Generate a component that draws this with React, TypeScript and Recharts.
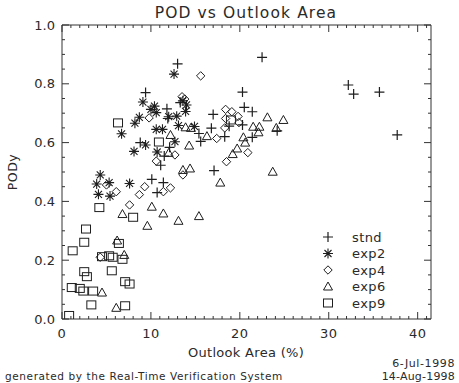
import React from 'react';
import { ScatterChart, Scatter, XAxis, YAxis, Legend } from 'recharts';

type P = { x: number; y: number };
const pts = (a: number[][]): P[] => a.map(([x, y]) => ({ x, y }));

const stnd = pts([
  [13.0, 0.868], [22.5, 0.89], [9.4, 0.77], [20.3, 0.772], [32.2, 0.796], [32.8, 0.765],
  [35.7, 0.772], [37.7, 0.626], [13.3, 0.736], [11.8, 0.715], [17.0, 0.696], [20.5, 0.72],
  [21.4, 0.705], [20.3, 0.66], [18.8, 0.656], [16.8, 0.649], [24.2, 0.64], [18.3, 0.62],
  [15.6, 0.604], [15.4, 0.631], [21.4, 0.618], [17.1, 0.505], [8.8, 0.6], [12.1, 0.584],
  [11.5, 0.554], [11.1, 0.523], [10.1, 0.475], [11.4, 0.464], [10.7, 0.43], [11.9, 0.682],
]);
const exp2 = pts([
  [12.6, 0.833], [9.1, 0.738], [10.4, 0.724], [10.0, 0.713], [10.6, 0.702], [13.6, 0.742],
  [14.0, 0.728], [13.9, 0.706], [8.7, 0.686], [12.0, 0.688], [12.9, 0.69], [8.2, 0.666],
  [6.7, 0.63], [13.1, 0.658], [10.6, 0.645], [11.3, 0.645], [14.9, 0.655], [9.4, 0.592],
  [12.7, 0.603], [8.1, 0.57], [10.7, 0.568], [4.3, 0.49], [3.9, 0.459], [5.3, 0.464],
  [7.6, 0.461], [4.1, 0.424], [5.4, 0.418],
]);
const exp4 = pts([
  [15.6, 0.827], [13.5, 0.756], [13.8, 0.748], [9.8, 0.684], [18.4, 0.713], [19.1, 0.705],
  [18.4, 0.682], [19.8, 0.689], [19.9, 0.668], [18.3, 0.65], [17.4, 0.614], [20.9, 0.566],
  [18.5, 0.535], [12.7, 0.558], [10.6, 0.537], [13.6, 0.49], [5.0, 0.456], [6.1, 0.433],
  [9.3, 0.45], [8.7, 0.423], [11.4, 0.433], [12.2, 0.446], [7.6, 0.388], [4.3, 0.21],
]);
const exp6 = pts([
  [13.9, 0.652], [14.5, 0.65], [12.2, 0.626], [16.3, 0.622], [20.4, 0.618], [20.6, 0.6],
  [14.3, 0.59], [19.7, 0.58], [19.2, 0.561], [23.1, 0.686], [24.9, 0.677], [21.5, 0.654],
  [22.2, 0.654], [22.1, 0.635], [24.1, 0.65], [23.7, 0.501], [13.6, 0.507], [14.4, 0.512],
  [17.8, 0.464], [12.0, 0.565], [10.1, 0.382], [11.4, 0.359], [13.1, 0.334], [15.4, 0.35],
  [9.6, 0.317], [6.8, 0.357], [6.2, 0.267], [7.0, 0.218], [4.5, 0.09], [6.1, 0.038],
]);
const exp9 = pts([
  [19.0, 0.677], [6.3, 0.667], [10.9, 0.602], [4.2, 0.379], [8.0, 0.346], [2.7, 0.306],
  [2.5, 0.261], [6.4, 0.257], [1.2, 0.232], [4.5, 0.212], [5.3, 0.215], [5.7, 0.21],
  [6.8, 0.203], [2.5, 0.161], [2.8, 0.144], [5.6, 0.164], [7.1, 0.127], [7.6, 0.119],
  [1.1, 0.107], [2.0, 0.104], [2.4, 0.095], [3.5, 0.095], [3.3, 0.048], [7.1, 0.045],
  [0.8, 0.012],
]);

const xTicks = Array.from({ length: 42 }, (_, i) => i);
const yTicks = Array.from({ length: 21 }, (_, i) => i / 20);
const legendNames = ['stnd', 'exp2', 'exp4', 'exp6', 'exp9'];

const INK = '#1e1e1e';
const FRAME = '#333';
const TXT = '#2a2a2a';
const FONT = '"DejaVu Sans", sans-serif';

const Plus = ({ cx, cy }: any) => (
  <path d={`M${cx - 5},${cy}H${cx + 5}M${cx},${cy - 5}V${cy + 5}`} stroke={INK} strokeWidth={1.2} fill="none" />
);
const Star = ({ cx, cy }: any) => {
  const d = 3.5;
  return (
    <path
      d={`M${cx - 5},${cy}H${cx + 5}M${cx},${cy - 5}V${cy + 5}M${cx - d},${cy - d}L${cx + d},${cy + d}M${cx - d},${cy + d}L${cx + d},${cy - d}`}
      stroke={INK} strokeWidth={1.1} fill="none"
    />
  );
};
const Diamond = ({ cx, cy }: any) => (
  <path d={`M${cx},${cy - 4.2}L${cx + 4.2},${cy}L${cx},${cy + 4.2}L${cx - 4.2},${cy}Z`} stroke={INK} strokeWidth={1} fill="none" />
);
const Tri = ({ cx, cy }: any) => (
  <path d={`M${cx},${cy - 4.5}L${cx + 4.5},${cy + 3.5}L${cx - 4.5},${cy + 3.5}Z`} stroke={INK} strokeWidth={1} fill="none" />
);
const Square = ({ cx, cy }: any) => (
  <rect x={cx - 4.5} y={cy - 4} width={9} height={8} stroke={INK} strokeWidth={1} fill="none" />
);
const SHAPES = [Plus, Star, Diamond, Tri, Square];

const XTickBottom = (p: any) => {
  const { x, y, payload } = p;
  const v = payload.value;
  const major = v % 10 === 0;
  return (
    <g>
      <line x1={x} x2={x} y1={y} y2={y - (major ? 7 : 3)} stroke={FRAME} />
      {major && (
        <text x={x} y={y + 19} textAnchor="middle" fontSize={13} fontFamily={FONT} fill={TXT} letterSpacing={0.5}>
          {v}
        </text>
      )}
    </g>
  );
};
const XTickTop = (p: any) => {
  const { x, y, payload } = p;
  const major = payload.value % 10 === 0;
  return <line x1={x} x2={x} y1={y} y2={y + (major ? 7 : 3)} stroke={FRAME} />;
};
const YTickLeft = (p: any) => {
  const { x, y, payload } = p;
  const i = Math.round(payload.value * 20);
  const major = i % 4 === 0;
  return (
    <g>
      <line x1={x} x2={x + (major ? 7 : 3)} y1={y} y2={y} stroke={FRAME} />
      {major && (
        <text x={x - 7} y={y + 4.5} textAnchor="end" fontSize={13} fontFamily={FONT} fill={TXT}>
          {payload.value.toFixed(1)}
        </text>
      )}
    </g>
  );
};
const YTickRight = (p: any) => {
  const { x, y, payload } = p;
  const major = Math.round(payload.value * 20) % 4 === 0;
  return <line x1={x} x2={x - (major ? 7 : 3)} y1={y} y2={y} stroke={FRAME} />;
};

const LegendBox = () => (
  <svg width={90} height={90}>
    {legendNames.map((n, i) => {
      const S = SHAPES[i];
      const cy = 9 + i * 16.5;
      return (
        <g key={n}>
          <S cx={10} cy={cy} />
          <text x={34} y={cy + 4.5} fontSize={13} fontFamily={FONT} fill={TXT} letterSpacing={0.4}>
            {n}
          </text>
        </g>
      );
    })}
  </svg>
);

const series = [stnd, exp2, exp4, exp6, exp9];

export default function App() {
  return (
    <div style={{ position: 'absolute', left: 0, top: 0, width: 459, height: 383, background: '#fff' }}>
      <ScatterChart
        width={459}
        height={383}
        margin={{ top: 24, right: 27, bottom: 34, left: 22 }}
        style={{ fontFamily: FONT }}
      >
        <XAxis
          xAxisId="b" type="number" dataKey="x" domain={[0, 41.5]} ticks={xTicks} interval={0}
          height={30} tickSize={0} tickMargin={0} tick={<XTickBottom />} axisLine={{ stroke: FRAME }}
          allowDataOverflow
        />
        <XAxis
          xAxisId="t" orientation="top" type="number" dataKey="x" domain={[0, 41.5]} ticks={xTicks}
          interval={0} height={1} tickSize={0} tickMargin={0} tick={<XTickTop />} axisLine={{ stroke: FRAME }}
          allowDataOverflow
        />
        <YAxis
          yAxisId="l" type="number" dataKey="y" domain={[0, 1]} ticks={yTicks} interval={0}
          width={40} tickSize={0} tickMargin={0} tick={<YTickLeft />} axisLine={{ stroke: FRAME }}
          allowDataOverflow
        />
        <YAxis
          yAxisId="r" orientation="right" type="number" dataKey="y" domain={[0, 1]} ticks={yTicks}
          interval={0} width={1} tickSize={0} tickMargin={0} tick={<YTickRight />} axisLine={{ stroke: FRAME }}
          allowDataOverflow
        />
        {series.map((d, i) => {
          const S = SHAPES[i];
          return (
            <Scatter
              key={legendNames[i]}
              name={legendNames[i]}
              data={d}
              xAxisId="b"
              yAxisId="l"
              isAnimationActive={false}
              shape={(p: any) => <S cx={p.cx} cy={p.cy} />}
            />
          );
        })}
        {series.map((d, i) => (
          <Scatter
            key={'h' + i}
            data={d}
            xAxisId="t"
            yAxisId="r"
            isAnimationActive={false}
            legendType="none"
            shape={() => <g />}
          />
        ))}
        <Legend
          layout="vertical"
          align="center"
          verticalAlign="middle"
          content={() => <LegendBox />}
          wrapperStyle={{ position: 'absolute', left: 318, top: 228, width: 90, height: 90 }}
        />
      </ScatterChart>
      <svg width={459} height={383} style={{ position: 'absolute', left: 0, top: 0, pointerEvents: 'none' }}>
        <text x={246} y={18} textAnchor="middle" fontSize={15.5} fontFamily={FONT} fill={TXT} letterSpacing={1.1}>
          POD vs Outlook Area
        </text>
        <text x={246} y={357} textAnchor="middle" fontSize={13} fontFamily={FONT} fill={TXT} letterSpacing={0.3}>
          Outlook Area (%)
        </text>
        <text
          x={0} y={0} textAnchor="middle" fontSize={12.5} fontFamily={FONT} fill={TXT}
          transform="translate(17,172) rotate(-90)" letterSpacing={0.5}
        >
          PODy
        </text>
        <text x={455} y={367} textAnchor="end" fontSize={11} fontFamily={FONT} fill={TXT} letterSpacing={0.6}>
          6-Jul-1998
        </text>
        <text x={455} y={380} textAnchor="end" fontSize={11} fontFamily={FONT} fill={TXT} letterSpacing={0.2}>
          14-Aug-1998
        </text>
        <text x={5} y={380} fontSize={10.5} fontFamily={FONT} fill={TXT} letterSpacing={0.6}>
          generated by the Real-Time Verification System
        </text>
      </svg>
    </div>
  );
}
